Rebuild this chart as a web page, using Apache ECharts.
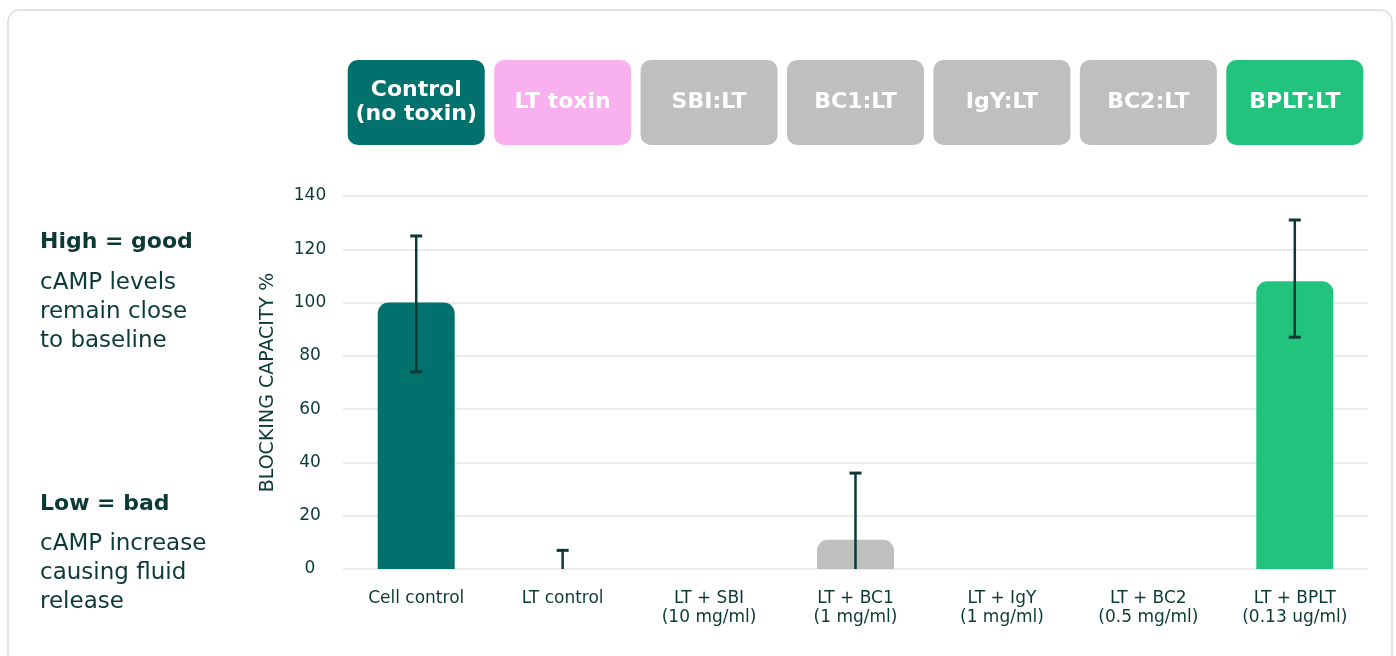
<!DOCTYPE html>
<html><head><meta charset="utf-8">
<script src="https://cdn.jsdelivr.net/npm/echarts@6/dist/echarts.min.js"></script>
<style>html,body{margin:0;padding:0;background:#fff;}#c{width:1396px;height:656px;}</style>
</head><body><div id="c"></div>
<script>
const categories = ['Cell control', 'LT control', 'LT + SBI\n(10 mg/ml)', 'LT + BC1\n(1 mg/ml)', 'LT + IgY\n(1 mg/ml)', 'LT + BC2\n(0.5 mg/ml)', 'LT + BPLT\n(0.13 ug/ml)'];
const headerLabels = ['Control\n(no toxin)', 'LT toxin', 'SBI:LT', 'BC1:LT', 'IgY:LT', 'BC2:LT', 'BPLT:LT'];
const headerColors = ['#00716C', '#F8B0EE', '#BFBFBF', '#BFBFBF', '#BFBFBF', '#BFBFBF', '#22C47D'];
const barValues = [100, 0, 0, 11, 0, 0, 108];
const barColors = ['#00716C', '#BFBFBF', '#BFBFBF', '#BFBFBF', '#BFBFBF', '#BFBFBF', '#22C47D'];
const errLow = [74, 0, null, 0, null, null, 87];
const errHigh = [125, 7, null, 36, null, null, 131];
const yTicks = [0, 20, 40, 60, 80, 100, 120, 140];

const DARK = '#0B3A35';
const FONT = '"DejaVu Sans"';

const chart = echarts.init(document.getElementById('c'));

const headerData = headerLabels.map((h, i) => {
  const lines = h.split('\n').length;
  const lh = 24;
  const padV = (85 - lines * lh) / 2;
  return { value: h, textStyle: { backgroundColor: headerColors[i], padding: [padV, 0, padV, 0], width: 137, lineHeight: lh, borderRadius: 10 } };
});

const errData = categories.map((c, i) => errLow[i] == null ? null : [i, errLow[i], errHigh[i]]).filter(d => d);

chart.setOption({
  animation: false,
  textStyle: { fontFamily: FONT },
  graphic: [
    { type: 'rect', shape: { x: 8, y: 10, width: 1384, height: 700, r: 12 }, style: { fill: 'none', stroke: '#DCDCDC', lineWidth: 1.5 }, silent: true, z: -10 },
    { type: 'text', left: 40, top: 231, style: { text: 'High = good', fontFamily: FONT, fontSize: 22, fontWeight: 'bold', fill: DARK } },
    { type: 'text', left: 40, top: 269, style: { text: 'cAMP levels\nremain close\nto baseline', fontFamily: FONT, fontSize: 23, lineHeight: 29, fill: DARK } },
    { type: 'text', left: 40, top: 493, style: { text: 'Low = bad', fontFamily: FONT, fontSize: 22, fontWeight: 'bold', fill: DARK } },
    { type: 'text', left: 40, top: 530, style: { text: 'cAMP increase\ncausing fluid\nrelease', fontFamily: FONT, fontSize: 23, lineHeight: 29, fill: DARK } }
  ],
  grid: { left: 343, right: 28, top: 196, bottom: 87 },
  xAxis: [
    { type: 'category', data: categories, axisLine: { show: false }, axisTick: { show: false },
      axisLabel: { interval: 0, margin: 20, fontSize: 17, lineHeight: 19, color: DARK, fontFamily: FONT } },
    { type: 'category', position: 'top', data: headerData, axisLine: { show: false }, axisTick: { show: false },
      axisLabel: { interval: 0, margin: 51, fontSize: 22, fontWeight: 'bold', color: '#fff', fontFamily: FONT, align: 'center' } }
  ],
  yAxis: {
    type: 'value', min: 0, max: 140, interval: 20,
    name: 'BLOCKING CAPACITY %', nameLocation: 'middle', nameGap: 65, nameRotate: 90,
    nameTextStyle: { fontSize: 19, color: DARK, fontFamily: FONT },
    axisLine: { show: false }, axisTick: { show: false },
    axisLabel: { margin: 33, align: 'center', fontSize: 17, color: DARK, fontFamily: FONT, formatter: v => yTicks.includes(v) ? String(v) : '' },
    splitLine: { lineStyle: { color: '#E6E3E3', width: 1.5 } }
  },
  series: [
    { type: 'bar', xAxisIndex: 0, barWidth: 77,
      data: barValues.map((v, i) => ({ value: v, itemStyle: { color: barColors[i], borderRadius: [11, 11, 0, 0] } })) },
    { type: 'custom', xAxisIndex: 0, z: 5, data: errData,
      renderItem: (params, api) => {
        const x = api.value(0), lo = api.value(1), hi = api.value(2);
        const pLo = api.coord([x, lo]), pHi = api.coord([x, hi]);
        const cw = 6;
        const st = { stroke: DARK, lineWidth: 2.5 };
        const children = [
          { type: 'line', shape: { x1: pLo[0], y1: pLo[1], x2: pHi[0], y2: pHi[1] }, style: st },
          { type: 'line', shape: { x1: pHi[0] - cw, y1: pHi[1], x2: pHi[0] + cw, y2: pHi[1] }, style: { stroke: DARK, lineWidth: 3 } }
        ];
        if (lo > 0) children.push({ type: 'line', shape: { x1: pLo[0] - cw, y1: pLo[1], x2: pLo[0] + cw, y2: pLo[1] }, style: { stroke: DARK, lineWidth: 3 } });
        return { type: 'group', children };
      } }
  ]
});
</script></body></html>
